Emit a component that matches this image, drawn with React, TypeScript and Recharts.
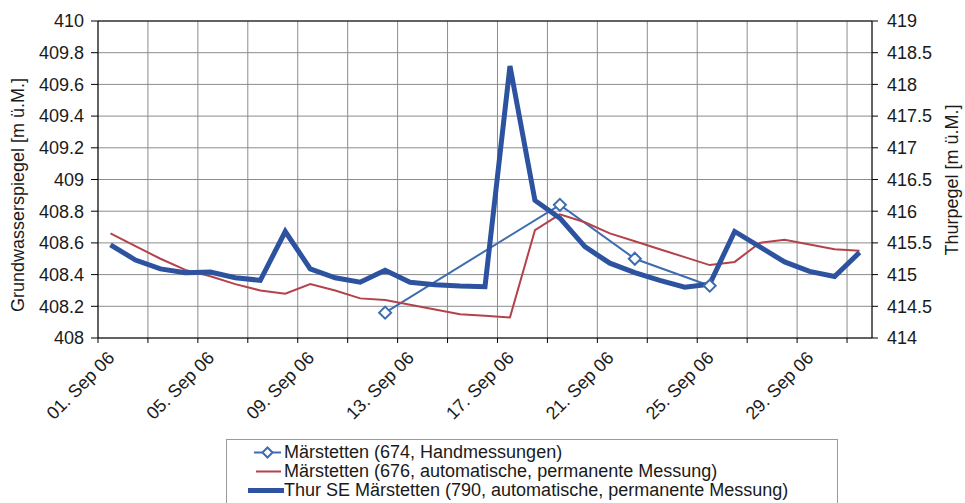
import React from 'react';
import {
  LineChart,
  Line,
  XAxis,
  YAxis,
  CartesianGrid,
  Legend,
  ReferenceLine,
} from 'recharts';

// day of month (01. Sep 06 = 1 ... 01. Okt 06 = 31)
const days = [
  1, 2, 3, 4, 5, 6, 7, 8, 9, 10, 11, 12, 13, 14, 15, 16,
  17, 18, 19, 20, 21, 22, 23, 24, 25, 26, 27, 28, 29, 30, 31,
];

// Märstetten (674, Handmessungen) – only a few manual readings
const hand674 = [
  null, null, null, null, null, null, null, null, null, null, null, 408.16, null, null, null, null,
  null, null, 408.84, null, null, 408.5, null, null, 408.33, null, null, null, null, null, null,
];

// Märstetten (676, automatische, permanente Messung)
const auto676 = [
  408.66, 408.58, 408.5, 408.43, 408.39, 408.34, 408.3, 408.28, 408.34, 408.3, 408.25, 408.24, 408.21, 408.18, 408.15, 408.14,
  408.13, 408.68, 408.78, 408.73, 408.66, 408.61, 408.56, 408.51, 408.46, 408.48, 408.6, 408.62, 408.59, 408.56, 408.55,
];

// Thur SE Märstetten (790) – Thurpegel, right axis
const thur790 = [
  415.47, 415.23, 415.09, 415.03, 415.04, 414.95, 414.91, 415.68, 415.09, 414.95, 414.88, 415.07, 414.88, 414.84, 414.82, 414.81,
  418.29, 416.17, 415.89, 415.44, 415.18, 415.03, 414.91, 414.8, 414.85, 415.68, 415.44, 415.2, 415.05, 414.97, 415.35,
];

const leftTicks = [408, 408.2, 408.4, 408.6, 408.8, 409, 409.2, 409.4, 409.6, 409.8, 410];
const rightTicks = [414, 414.5, 415, 415.5, 416, 416.5, 417, 417.5, 418, 418.5, 419];
// tick marks sit between the days, every second day
const xTicks = [0.5, 2.5, 4.5, 6.5, 8.5, 10.5, 12.5, 14.5, 16.5, 18.5, 20.5, 22.5, 24.5, 26.5, 28.5, 30.5];

const seriesNames = [
  'Märstetten (674, Handmessungen)',
  'Märstetten (676, automatische, permanente Messung)',
  'Thur SE Märstetten (790, automatische, permanente Messung)',
];

const data = days.map((day, i) => ({
  day,
  hand: hand674[i],
  auto: auto676[i],
  thur: thur790[i],
}));

const FONT = '"Liberation Sans", Arial, sans-serif';
const THICK_BLUE = '#2c52a0';
const THIN_BLUE = '#3d6db0';
const RED = '#b5424b';

function DateTick(props: any) {
  const { x, y, payload } = props;
  const day = payload.value + 0.5;
  if ((day - 1) % 4 !== 0) return <g />;
  const label = `${String(day).padStart(2, '0')}. Sep 06`;
  const ax = x + 17.5;
  const ay = y + 14;
  return (
    <text
      x={ax}
      y={ay}
      transform={`rotate(-45, ${ax}, ${ay})`}
      textAnchor="end"
      fontSize={18}
      fill="#1a1a1a"
      fontFamily={FONT}
    >
      {label}
    </text>
  );
}

function Diamond(props: any) {
  const { cx, cy, value } = props;
  if (value == null || cx == null || cy == null) return <g />;
  const r = 6;
  return (
    <polygon
      points={`${cx},${cy - r} ${cx + r},${cy} ${cx},${cy + r} ${cx - r},${cy}`}
      fill="#fff"
      stroke={THIN_BLUE}
      strokeWidth={2}
    />
  );
}

function LegendBox() {
  const rows = [
    { name: seriesNames[0], icon: 'diamond' },
    { name: seriesNames[1], icon: 'red' },
    { name: seriesNames[2], icon: 'thick' },
  ];
  return (
    <div
      style={{
        border: '1px solid #9a9a9a',
        background: '#fff',
        height: 80,
        boxSizing: 'border-box',
        paddingTop: 3,
        fontFamily: FONT,
        fontSize: 18,
        color: '#1a1a1a',
      }}
    >
      {rows.map((r) => (
        <div key={r.name} style={{ display: 'flex', alignItems: 'center', height: 19, lineHeight: '19px' }}>
          <svg width={57} height={19} style={{ flex: 'none' }}>
            {r.icon === 'diamond' && (
              <g>
                <line x1={27} y1={9.5} x2={54} y2={9.5} stroke={THIN_BLUE} strokeWidth={2} />
                <polygon points="40.5,4.5 45.5,9.5 40.5,14.5 35.5,9.5" fill="#fff" stroke={THIN_BLUE} strokeWidth={2} />
              </g>
            )}
            {r.icon === 'red' && <line x1={29} y1={9.5} x2={54} y2={9.5} stroke={RED} strokeWidth={2} />}
            {r.icon === 'thick' && <line x1={21} y1={9.5} x2={57} y2={9.5} stroke={THICK_BLUE} strokeWidth={5} />}
          </svg>
          <span style={{ whiteSpace: 'nowrap' }}>{r.name}</span>
        </div>
      ))}
    </div>
  );
}

const leftLabel = () => (
  <text
    x={18}
    y={195}
    transform="rotate(-90, 18, 195)"
    textAnchor="middle"
    dominantBaseline="central"
    fontSize={18}
    fill="#1a1a1a"
    fontFamily={FONT}
  >
    Grundwasserspiegel [m ü.M.]
  </text>
);

const rightLabel = () => (
  <text
    x={952}
    y={180}
    transform="rotate(-90, 952, 180)"
    textAnchor="middle"
    dominantBaseline="central"
    fontSize={18}
    fill="#1a1a1a"
    fontFamily={FONT}
  >
    Thurpegel [m ü.M.]
  </text>
);

export default function App() {
  const tickStyle = { fontSize: 18, fill: '#1a1a1a', fontFamily: FONT };
  return (
    <div style={{ position: 'absolute', left: 0, top: 0, width: 965, height: 503, background: '#fff' }}>
      <LineChart
        width={965}
        height={503}
        data={data}
        margin={{ top: 21, right: 0, bottom: 0, left: 0 }}
        style={{ fontFamily: FONT }}
      >
        <CartesianGrid yAxisId="left" stroke="#8c8c8c" strokeWidth={1} />
        <XAxis
          dataKey="day"
          type="number"
          domain={[0.5, 31.5]}
          ticks={xTicks}
          interval={0}
          height={165}
          tick={<DateTick />}
          tickSize={5}
          tickMargin={2}
          axisLine={{ stroke: '#000' }}
          tickLine={{ stroke: '#000' }}
        />
        <YAxis
          yAxisId="left"
          domain={[408, 410]}
          ticks={leftTicks}
          interval={0}
          width={98}
          tickSize={7}
          tickMargin={7}
          tick={tickStyle}
          axisLine={{ stroke: '#000' }}
          tickLine={{ stroke: '#000' }}
          label={leftLabel}
        />
        <YAxis
          yAxisId="right"
          orientation="right"
          domain={[414, 419]}
          ticks={rightTicks}
          interval={0}
          width={93}
          tickSize={6}
          tickMargin={9}
          tick={tickStyle}
          axisLine={{ stroke: '#000' }}
          tickLine={{ stroke: '#000' }}
          label={rightLabel}
        />
        <ReferenceLine yAxisId="left" y={410} stroke="#000" />
        <Line
          yAxisId="left"
          dataKey="hand"
          name={seriesNames[0]}
          stroke={THIN_BLUE}
          strokeWidth={2}
          connectNulls
          dot={<Diamond />}
          activeDot={false}
          isAnimationActive={false}
        />
        <Line
          yAxisId="left"
          dataKey="auto"
          name={seriesNames[1]}
          stroke={RED}
          strokeWidth={2}
          dot={false}
          activeDot={false}
          isAnimationActive={false}
        />
        <Line
          yAxisId="right"
          dataKey="thur"
          name={seriesNames[2]}
          stroke={THICK_BLUE}
          strokeWidth={5}
          dot={false}
          activeDot={false}
          isAnimationActive={false}
        />
        <Legend
          layout="vertical"
          align="center"
          verticalAlign="middle"
          content={<LegendBox />}
          wrapperStyle={{ position: 'absolute', left: 226, top: 439, width: 612, height: 80 }}
        />
      </LineChart>
    </div>
  );
}
